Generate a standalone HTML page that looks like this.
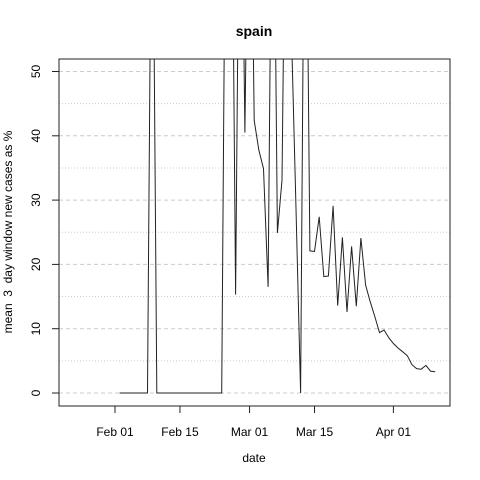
<!DOCTYPE html>
<html><head><meta charset="utf-8"><style>
body{margin:0;background:#fff}
svg{display:block;font-family:"Liberation Sans",sans-serif}
</style></head><body>
<svg id="chart" width="480" height="480">
<rect x="0" y="0" width="480" height="480" fill="#fff"/>
<text x="254" y="36" font-size="14" font-weight="bold" text-anchor="middle">spain</text>
<text x="254" y="462" font-size="12" text-anchor="middle">date</text>
<text transform="translate(12,232) rotate(-90)" font-size="12" text-anchor="middle" style="white-space:pre">mean  3  day window new cases as %</text>
<defs><clipPath id="pc"><rect x="59" y="59" width="391" height="347"/></clipPath></defs>
<g id="grid"></g>
<g id="series" clip-path="url(#pc)"></g>
<rect x="59" y="59" width="391" height="347" fill="none" stroke="#222" stroke-width="1"/>
<g id="axes"></g>
</svg>
<script>
const dates = ["Feb 02","Feb 03","Feb 04","Feb 05","Feb 06","Feb 07","Feb 08","Feb 09","Feb 10","Feb 11","Feb 12","Feb 13","Feb 14","Feb 15","Feb 16","Feb 17","Feb 18","Feb 19","Feb 20","Feb 21","Feb 22","Feb 23","Feb 24","Feb 25","Feb 26","Feb 27","Feb 28","Feb 29","Mar 01","Mar 02","Mar 03","Mar 04","Mar 05","Mar 06","Mar 07","Mar 08","Mar 09","Mar 10","Mar 11","Mar 12","Mar 13","Mar 14","Mar 15","Mar 16","Mar 17","Mar 18","Mar 19","Mar 20","Mar 21","Mar 22","Mar 23","Mar 24","Mar 25","Mar 26","Mar 27","Mar 28","Mar 29","Mar 30","Mar 31","Apr 01","Apr 02","Apr 03","Apr 04","Apr 05","Apr 06","Apr 07","Apr 08","Apr 09","Apr 10"];
const dayOffsets = [1,2,3,4,5,6,7,8,9,10,11,12,13,14,15,16,17,18,19,20,21,22,23,24,25,26,27,28,29,30,31,32,33,34,35,36,37,38,39,40,41,42,43,44,45,46,47,48,49,50,51,52,53,54,55,56,57,58,59,60,61,62,63,64,65,66,67,68,69];
const values = [0,0,0,0,0,0,0,95,0,0,0,0,0,0,0,0,0,0,0,0,0,0,0,100,100,15.3,100,40.5,100,42.4,37.8,34.9,16.5,100,24.9,33.1,100,57,28.7,0,100,22.1,22.0,27.4,18.1,18.2,29.1,13.6,24.2,12.6,22.8,13.5,24.1,16.8,14.2,11.9,9.4,9.8,8.6,7.7,7.0,6.4,5.8,4.4,3.8,3.7,4.3,3.4,3.3];
const yTicks = [0,10,20,30,40,50];
const yMinor = [5,15,25,35,45];
const xTickLabels = ["Feb 01","Feb 15","Mar 01","Mar 15","Apr 01"];
const xTickDays = [0,14,29,43,60];

const X = d => 115 + d * 4.64;
const Y = v => 393 - v * 6.43;
const NS = "http://www.w3.org/2000/svg";
function mk(tag, attrs, parent){const e=document.createElementNS(NS,tag);for(const k in attrs)e.setAttribute(k,attrs[k]);parent.appendChild(e);return e;}
const grid=document.getElementById('grid'), axes=document.getElementById('axes'), series=document.getElementById('series');
yTicks.forEach(v=>{
  const l=mk('line',{x1:59,x2:450,y1:Y(v),y2:Y(v),stroke:'#ccc','stroke-dasharray':'4,3'},grid);
  
  
  const t=mk('line',{x1:52,x2:59,y1:Y(v),y2:Y(v),stroke:'#222'},axes);
  
  
  const tx=mk('text',{transform:`translate(40,${Y(v)}) rotate(-90)`,'font-size':12,'text-anchor':'middle'},axes);
  tx.textContent=v;
  
  
});
yMinor.forEach(v=>{
  const l=mk('line',{x1:59,x2:450,y1:Y(v),y2:Y(v),stroke:'#ccc','stroke-dasharray':'1,2'},grid);
  
  
});
xTickDays.forEach((d,i)=>{
  const t=mk('line',{x1:X(d),x2:X(d),y1:406,y2:413,stroke:'#222'},axes);
  
  
  const tx=mk('text',{x:X(d),y:436,'font-size':12,'text-anchor':'middle'},axes);
  tx.textContent=xTickLabels[i];
  
  
});
const pts=dayOffsets.map((d,i)=>X(d).toFixed(1)+','+Y(values[i]).toFixed(1)).join(' ');
const pl=mk('polyline',{points:pts,fill:'none',stroke:'#222','stroke-width':1},series);


</script>
</body></html>
